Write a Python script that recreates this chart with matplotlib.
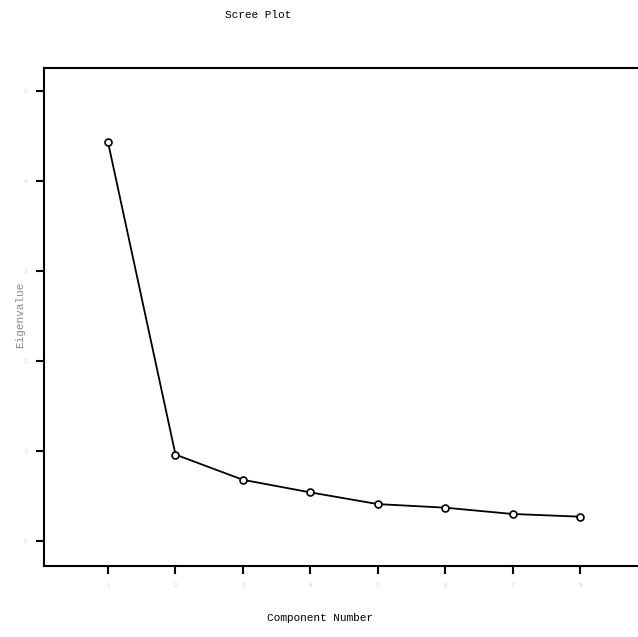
import numpy as np
import matplotlib
matplotlib.use('Agg')
import matplotlib.pyplot as plt

# scree data
components = [1, 2, 3, 4, 5, 6, 7, 8]
eigenvalues = [4.43, 0.96, 0.68, 0.54, 0.41, 0.37, 0.30, 0.27]
y_ticks = [0, 1, 2, 3, 4, 5]

fig = plt.figure(figsize=(6.38, 6.37), dpi=100)
ax = fig.add_axes([0.069, 0.1115, 0.931, 0.7815])

ax.plot(components, eigenvalues, color='black', linewidth=1.3,
        marker='o', markersize=5, markerfacecolor='white',
        markeredgecolor='black', markeredgewidth=1.2)

ax.set_xlim(0.05, 8.86)
ax.set_ylim(-0.278, 5.256)
ax.set_xticks(components)
ax.set_yticks(y_ticks)
ax.tick_params(direction='out', length=6, width=1.5, labelsize=4,
               labelcolor='#d0d0d0', pad=6)
for s in ['left', 'top', 'bottom']:
    ax.spines[s].set_linewidth(1.5)
ax.spines['right'].set_visible(False)

# labels placed like the reference
fig.text(0.5016, 0.0298, 'Component Number', family='Liberation Mono',
         fontsize=8, ha='center', va='center')
fig.text(0.031, 0.505, 'Eigenvalue', family='Liberation Mono', fontsize=8,
         color='#888888', rotation=90, ha='center', va='center')
fig.text(0.404, 0.976, 'Scree Plot', family='Liberation Mono', fontsize=8,
         ha='center', va='center')

fig.savefig('out.png', dpi=100)
